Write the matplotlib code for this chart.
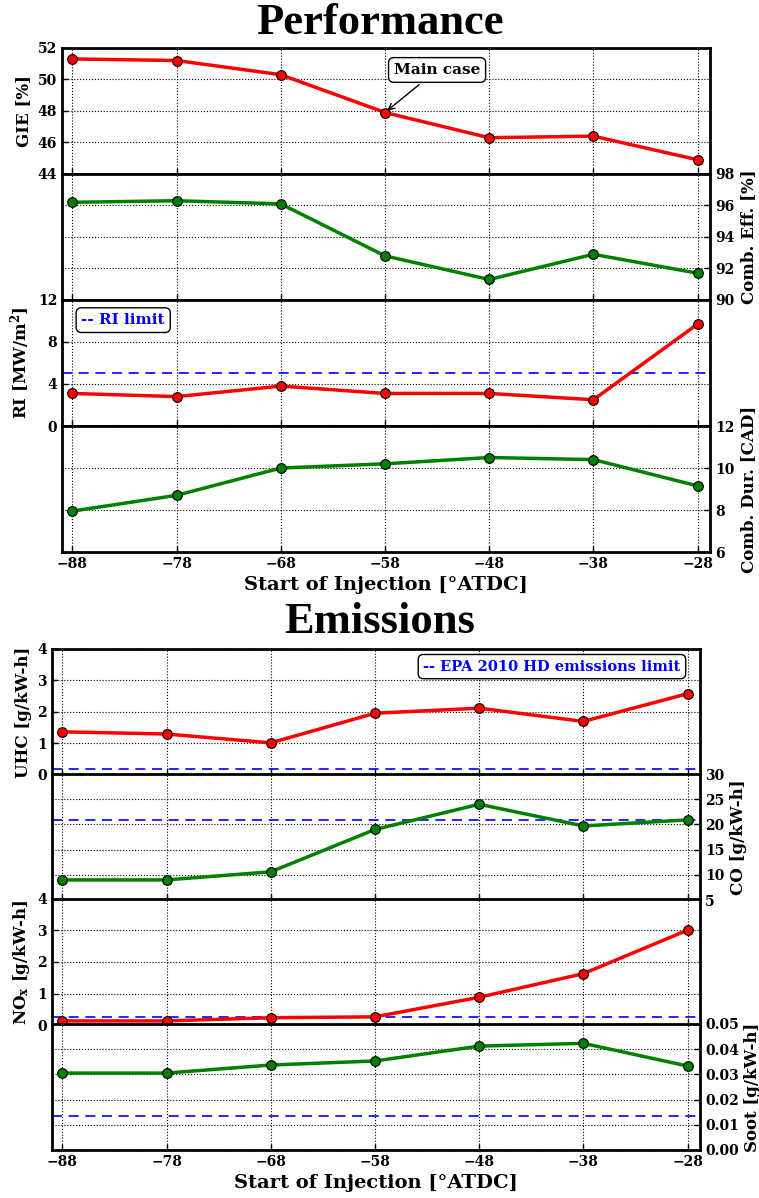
import matplotlib
matplotlib.use("Agg")
import matplotlib.pyplot as plt

soi = [-88, -78, -68, -58, -48, -38, -28]

gie = [51.3, 51.2, 50.3, 47.9, 46.3, 46.4, 44.9]
comb_eff = [96.2, 96.3, 96.1, 92.8, 91.3, 92.9, 91.7]
ri = [3.1, 2.8, 3.8, 3.1, 3.1, 2.5, 9.7]
comb_dur = [7.95, 8.7, 10.0, 10.2, 10.5, 10.4, 9.15]
ri_limit = 5.0

uhc = [1.37, 1.30, 1.02, 1.96, 2.12, 1.70, 2.58]
co = [9.0, 9.0, 10.6, 19.0, 24.0, 19.7, 20.9]
nox = [0.13, 0.13, 0.23, 0.26, 0.88, 1.63, 3.01]
soot = [0.0305, 0.0305, 0.0337, 0.0353, 0.0412, 0.0423, 0.0333]
uhc_limit = 0.19
co_limit = 20.8
nox_limit = 0.27
soot_limit = 0.0134

plt.rcParams["mathtext.default"] = "regular"
plt.rcParams["font.family"] = "DejaVu Serif"
plt.rcParams["font.weight"] = "bold"

fig = plt.figure(figsize=(7.59, 11.98), dpi=100)

lab_kw = dict(fontsize=12, fontweight="bold", family="DejaVu Serif")
tick_font = dict(family="DejaVu Serif", weight="bold", size=10)


def panel(rect, y, color, ylim, yticks, ylabel, side, limit=None, last=False):
  ax = fig.add_axes(rect)
  ax.plot(soi, y, "-o", color=color, lw=2.5, ms=7, mec="black", mew=0.8, zorder=3)
  if limit is not None:
    ax.axhline(limit, color="blue", ls="--", lw=1.2, dashes=(6, 4))
  ax.set_xlim(-89, -26.8)
  ax.set_ylim(*ylim)
  ax.set_xticks(soi)
  ax.set_yticks(yticks)
  ax.grid(True, color="black", ls=":", lw=0.8)
  for s in ax.spines.values():
    s.set_linewidth(2)
  ax.tick_params(direction="in", length=4, width=1)
  if side == "right":
    ax.yaxis.tick_right()
    ax.yaxis.set_label_position("right")
  ax.set_ylabel(ylabel, **lab_kw)
  for t in ax.get_yticklabels():
    t.set(**tick_font)
  if last:
    ax.set_xticklabels([f"\u2212{-v}" for v in soi])
    for t in ax.get_xticklabels():
      t.set(**tick_font)
    ax.set_xlabel("Start of Injection [\u00b0ATDC]", family="DejaVu Serif",
                  weight="bold", size=14)
  else:
    ax.set_xticklabels([])
  return ax


# Performance
left, width, h = 0.0817, 0.8538, 0.1052
bots = [0.8548, 0.7496, 0.6444, 0.5392]
ax1 = panel([left, bots[0], width, h], gie, "red", (44, 52), [44, 46, 48, 50, 52], "GIE [%]", "left")
ax2 = panel([left, bots[1], width, h], comb_eff, "green", (90, 98), [90, 92, 94, 96, 98], "Comb. Eff. [%]", "right")
ax3 = panel([left, bots[2], width, h], ri, "red", (0, 12), [0, 4, 8, 12], "RI [MW/m$^2$]", "left", ri_limit)
ax4 = panel([left, bots[3], width, h], comb_dur, "green", (6, 12), [6, 8, 10, 12], "Comb. Dur. [CAD]", "right", last=True)

ax1.annotate("Main case", xy=(-58, 47.9), xytext=(-53.0, 50.6), ha="center", va="center",
             family="DejaVu Serif", weight="bold", size=11,
             bbox=dict(boxstyle="round,pad=0.35", fc="white", ec="black", lw=1),
             arrowprops=dict(arrowstyle="->", color="black", lw=1))
ax3.text(0.03, 0.84, "-- RI limit", transform=ax3.transAxes, color="blue", va="center",
         family="DejaVu Serif", weight="bold", size=11,
         bbox=dict(boxstyle="round,pad=0.35", fc="white", ec="black", lw=1))

fig.text(0.5, 0.981, "Performance", ha="center", va="center",
         family="Liberation Serif", weight="bold", size=32)

# Emissions
left2 = 0.0685
bots2 = [0.3531, 0.2487, 0.1444, 0.0401]
ax5 = panel([left2, bots2[0], width, h], uhc, "red", (0, 4), [0, 1, 2, 3, 4], "UHC [g/kW-h]", "left", uhc_limit)
ax6 = panel([left2, bots2[1], width, h], co, "green", (5, 30), [5, 10, 15, 20, 25, 30], "CO [g/kW-h]", "right", co_limit)
ax7 = panel([left2, bots2[2], width, h], nox, "red", (0, 4), [0, 1, 2, 3, 4], "NO$_x$ [g/kW-h]", "left", nox_limit)
ax8 = panel([left2, bots2[3], width, h], soot, "green", (0, 0.05),
            [0, 0.01, 0.02, 0.03, 0.04, 0.05], "Soot [g/kW-h]", "right", soot_limit, last=True)
ax8.set_yticklabels([f"{v:.2f}" for v in [0, 0.01, 0.02, 0.03, 0.04, 0.05]])
for t in ax8.get_yticklabels():
  t.set(**tick_font)

ax5.text(0.97, 0.86, "-- EPA 2010 HD emissions limit", transform=ax5.transAxes, color="blue",
         ha="right", va="center", family="DejaVu Serif", weight="bold", size=10.5,
         bbox=dict(boxstyle="round,pad=0.35", fc="white", ec="black", lw=1))

fig.text(0.5, 0.481, "Emissions", ha="center", va="center",
         family="Liberation Serif", weight="bold", size=32)

fig.savefig("out.png", dpi=100)
